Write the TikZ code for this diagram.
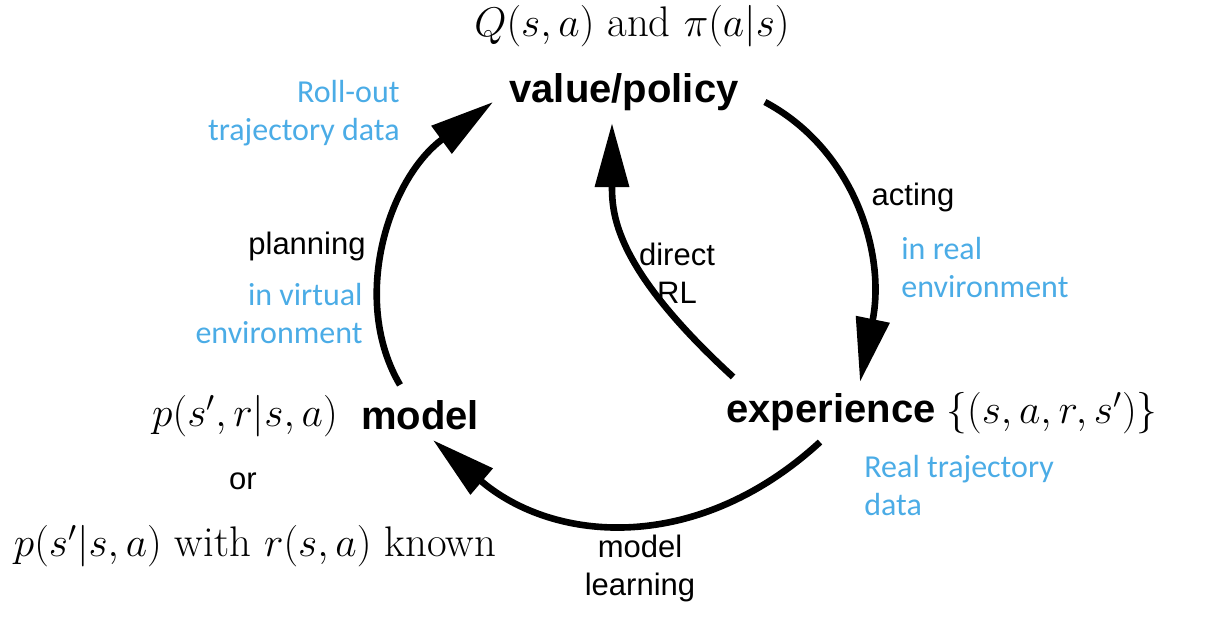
\documentclass[tikz,border=0pt]{standalone}
\usepackage{fontspec}
\usepackage{xcolor}
\usepackage{tikz}
\usetikzlibrary{arrows.meta}
\newfontfamily\helv{Liberation Sans}
\newfontfamily\calib{Carlito}
\definecolor{rlblue}{RGB}{75,172,230}

\begin{document}
\begin{tikzpicture}[
  x=0.5pt, y=-0.5pt,
  state/.style={font=\helv\bfseries\fontsize{20}{24}\selectfont, inner sep=0pt},
  fn/.style={font=\fontsize{21.4}{25}\selectfont, inner sep=0pt},
  el/.style={font=\helv\fontsize{15.5}{19}\selectfont, inner sep=0pt, align=center},
  env/.style={font=\calib\fontsize{16}{19}\selectfont, text=rlblue, inner sep=0pt},
  ar/.style={-{Triangle[length=32pt,width=16.5pt]}, line width=3.3pt},
]
\useasboundingbox (0,0) rectangle (1222,624);

% --- the three states -----------------------------------------------------
\node[state] (vp)    at (624,92)  {value/policy};
\node[state] (model) at (420,415) {model};
\node[state] (exp)   at (831,412) {experience};

% --- what each state holds ----------------------------------------------
\node[fn] (qpi)    at (632,26)   {$Q(s,a)$ and $\pi(a|s)$};
\node[fn] (pmod)   at (245,416)  {$p(s',r|s,a)$};
\node[el] (orlbl)  at (243,481)  {or};
\node[fn] (pknown) at (255,546)  {$p(s'|s,a)$ with $r(s,a)$ known};
\node[fn] (sset)   at (1052,413) {$\{(s,a,r,s')\}$};

% --- arrow labels (black: process, blue: where it happens) ----------------
\node[env, align=right, anchor=east] (rollout) at (400,113) {Roll-out\\trajectory data};
\node[el, anchor=east] (planning) at (366,246) {planning};
\node[env, align=right, anchor=east] (virtual) at (363,314) {in virtual\\environment};
\node[el] (acting) at (913,197) {acting};
\node[env, align=left, anchor=west] (inreal) at (901,268) {in real\\environment};
\node[el] (direct) at (677,273) {direct\\RL};
\node[env, align=left, anchor=west] (realdata) at (864,486) {Real trajectory\\data};
\node[el] (mlearn) at (640,568) {model\\learning};

% --- the cycle: acting, model learning, planning; plus direct RL ----------
\draw[ar] ([shift={(-20,-15)}]model.north) .. controls +(-50,-85) and +(-105,77)
          .. ([shift={(-16,10)}]vp.west);
\draw[ar] ([shift={(26,10)}]vp.east) .. controls +(90,48) and +(26,-127)
          .. ([shift={(29,-11)}]exp.north);
\draw[ar] ([shift={(7,-16)}]exp.north west) .. controls +(-120,-110) and +(0,90)
          .. ([shift={(-12,12)}]vp.south);
\draw[ar] ([shift={(-11,11)}]exp.south) .. controls +(-122,112) and +(122,104)
          .. ([shift={(13,10)}]model.south);
\end{tikzpicture}
\end{document}
